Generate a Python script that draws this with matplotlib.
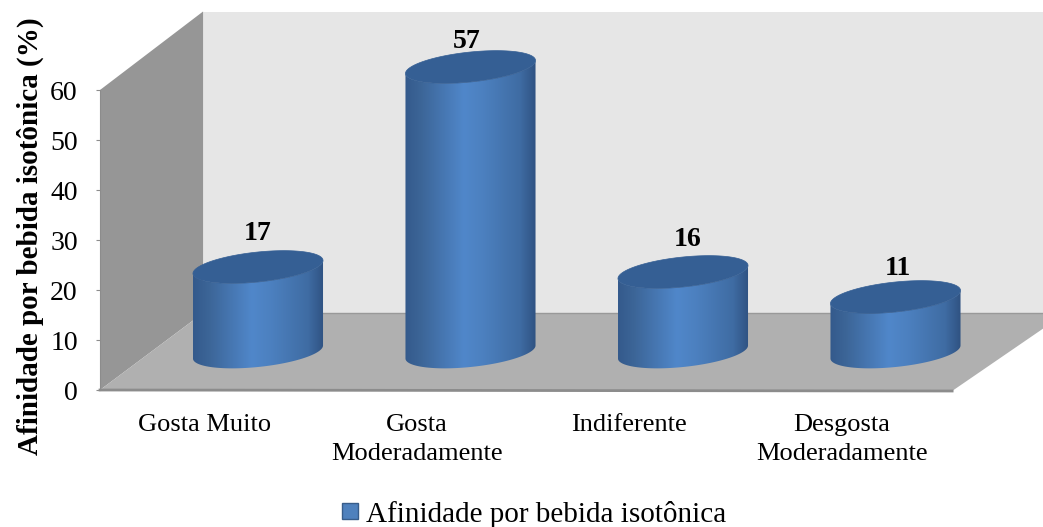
import numpy as np
import matplotlib
matplotlib.use('Agg')
import matplotlib.pyplot as plt
from matplotlib.colors import LinearSegmentedColormap
from matplotlib.patches import Patch, Polygon

categories = ['Gosta Muito', 'Gosta\nModeradamente', 'Indiferente', 'Desgosta\nModeradamente']
values = [17, 57, 16, 11]
yticks = [0, 10, 20, 30, 40, 50, 60]
ylabel = 'Afinidade por bebida isotônica (%)'
series_name = 'Afinidade por bebida isotônica'

W, H = 1043, 527
plt.rcParams['font.family'] = ['Liberation Serif', 'DejaVu Serif']

# depth of the fake 3d box, in data units (x categories, y percent)
DX, DY = 0.485, 15.4
# cylinders stand half way into the box
CX, CY = 0.2435, 7.6
# ellipse half width, half height, tilt
A, B, TILT = 0.306, 3.0, 1.3

shade = LinearSegmentedColormap.from_list('cyl', [(0, '#345a8c'), (0.12, '#3c6597'), (0.45, '#5087ca'),
                                                  (0.6, '#4c80bf'), (0.88, '#3f6ca3'), (1, '#2f5282')])

fig = plt.figure(figsize=(W/100, H/100), dpi=100)
ax = fig.add_axes([100/W, 1-390/H, 850/W, 300/H])

# walls and floor
ymax = yticks[-1]
ax.add_patch(Polygon([(DX, DY), (DX, ymax+DY+0.3), (4.5, ymax+DY+0.3), (4.5, DY)], fc='#e6e6e6', ec='none', clip_on=False, zorder=1))
ax.add_patch(Polygon([(0, 0), (0, ymax), (DX, ymax+DY+0.3), (DX, DY)], fc='#969696', ec='none', clip_on=False, zorder=1.1))
ax.add_patch(Polygon([(0, 0), (DX, DY), (4+DX+0.06, DY), (4+0.01, -0.2)], fc='#b0b0b0', ec='none', clip_on=False, zorder=1.2))
ax.plot([DX, 4.5], [DY, DY], color='#999999', lw=1, clip_on=False, zorder=1.3)
ax.plot([0, 4.01], [0, -0.2], color='#8c8c8c', lw=2, clip_on=False, zorder=1.3)

t = np.linspace(0, 2*np.pi, 200)
front = np.linspace(np.pi, 2*np.pi, 100)
label_dx = [0.0, -0.02, 0.02, 0.01]
label_dy = [6.7, 5.0, 6.6, 5.6]

for i, v in enumerate(values):
    cx = i + 0.5 + CX
    bottom = CY
    top = CY + v
    # body: bottom arc then top arc back the other way
    bx = cx + A*np.cos(front)
    by = bottom + TILT*np.cos(front) + B*np.sin(front)
    tx = cx + A*np.cos(front[::-1])
    ty = top + TILT*np.cos(front[::-1]) + B*np.sin(front[::-1])
    body = Polygon(np.column_stack([np.r_[bx, tx], np.r_[by, ty]]), fc='none', ec='none', clip_on=False, zorder=2)
    ax.add_patch(body)
    im = ax.imshow(np.linspace(0, 1, 256).reshape(1, -1), cmap=shade, aspect='auto',
                   extent=[cx-A, cx+A, bottom-B-3, top+B+3], zorder=2)
    im.set_clip_box(fig.bbox)
    im.set_clip_path(body)
    # top lid
    ex = cx + A*np.cos(t)
    ey = top + TILT*np.cos(t) + B*np.sin(t)
    ax.fill(ex, ey, color='#355f94', lw=0.5, clip_on=False, zorder=3)
    ax.text(cx+label_dx[i], top+label_dy[i], str(v), ha='center', va='center', fontsize=20, fontweight='bold', zorder=4)

ax.set_xlim(0, 4)
ax.set_ylim(0, 60)

ax.set_xticks(np.arange(4)+0.49)
ax.set_xticklabels(categories, fontsize=19, linespacing=1.45)
ax.tick_params(axis='x', length=0, pad=17)
ax.set_yticks(yticks)
ax.tick_params(axis='y', length=3, width=0.8, color='#8c8c8c', labelsize=20, pad=13)
for s in ['top', 'right', 'bottom']:
    ax.spines[s].set_visible(False)
ax.spines['left'].set_color('#8c8c8c')
ax.set_ylabel(ylabel, fontsize=21, fontweight='bold', va='center')
ax.yaxis.set_label_coords(-70/850, 154/300)

handle = Patch(fc='#4f81bd', ec='#385d8a', label=series_name)
fig.legend(handles=[handle], loc='center', bbox_to_anchor=(534/W, 1-514/H), frameon=False, fontsize=21,
           handlelength=0.55, handleheight=0.5, handletextpad=0.25)

plt.savefig('out.png', dpi=100)
plt.close()
